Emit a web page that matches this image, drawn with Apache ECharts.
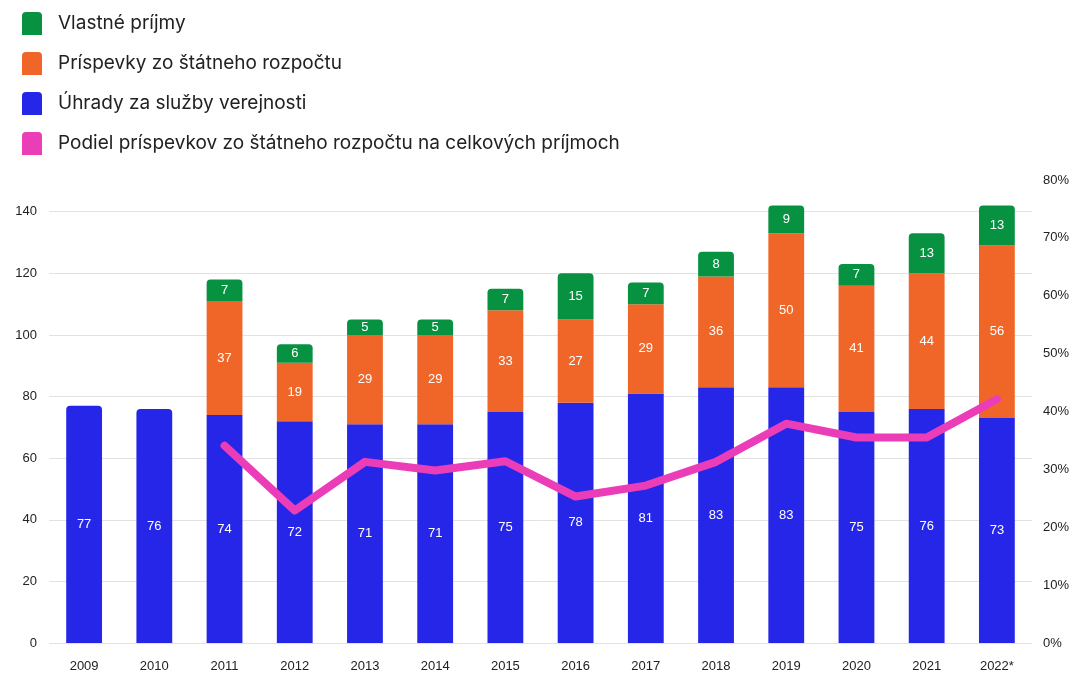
<!DOCTYPE html>
<html>
<head>
<meta charset="utf-8">
<script src="https://cdn.jsdelivr.net/npm/echarts@6/dist/echarts.min.js"></script>
<style>
  html, body { margin: 0; padding: 0; background: #fff; }
  #main { width: 1074px; height: 677px; }
</style>
</head>
<body>
<div id="main"></div>
<script>
var chartDom = document.getElementById('main');
var myChart = echarts.init(chartDom);
var option;

// roky
var years = ['2009', '2010', '2011', '2012', '2013', '2014', '2015', '2016', '2017', '2018', '2019', '2020', '2021', '2022*'];
// mil. eur
var uhrady = [77, 76, 74, 72, 71, 71, 75, 78, 81, 83, 83, 75, 76, 73];
var prispevky = [null, null, 37, 19, 29, 29, 33, 27, 29, 36, 50, 41, 44, 56];
var vlastne = [null, null, 7, 6, 5, 5, 7, 15, 7, 8, 9, 7, 13, 13];
// podiel v %
var podiel = [null, null, 34.1, 22.9, 31.3, 29.8, 31.4, 25.3, 27.2, 31.3, 37.9, 35.5, 35.5, 42.1];

var topRadius = [4, 4, 0, 0];
var legendIcon = 'path://M0,4 Q0,0 4,0 L16,0 Q20,0 20,4 L20,23 L0,23 Z';
var fontFamily = "'Liberation Sans', Arial, sans-serif";

var barLabel = {
    show: true,
    position: 'inside',
    color: '#fff',
    fontSize: 13,
    fontFamily: fontFamily
};

option = {
    animation: false,
    textStyle: { fontFamily: fontFamily },
    legend: {
        orient: 'vertical',
        left: 17,
        top: 7,
        itemWidth: 20,
        itemHeight: 23,
        itemGap: 17,
        icon: legendIcon,
        textStyle: { fontSize: 19, color: '#222', fontFamily: 'Inter', padding: [0, 0, 0, 11] },
        data: ['Vlastné príjmy', 'Príspevky zo štátneho rozpočtu', 'Úhrady za služby verejnosti', 'Podiel príspevkov zo štátneho rozpočtu na celkových príjmoch']
    },
    grid: {
        left: 49,
        right: 42,
        top: 180,
        bottom: 34
    },
    xAxis: {
        type: 'category',
        data: years,
        axisLine: { show: false },
        axisTick: { show: false },
        axisLabel: { color: '#222', fontSize: 13, margin: 17 }
    },
    yAxis: [
        {
            type: 'value',
            min: 0,
            max: 150.3,
            interval: 20,
            axisLabel: { color: '#222', fontSize: 13, margin: 12, showMaxLabel: false },
            splitLine: { lineStyle: { color: '#e2e2e2' }, showMaxLine: false }
        },
        {
            type: 'value',
            min: 0,
            max: 80,
            interval: 10,
            axisLabel: { color: '#222', fontSize: 13, margin: 11, formatter: '{value}%' },
            splitLine: { show: false }
        }
    ],
    series: [
        {
            name: 'Úhrady za služby verejnosti',
            type: 'bar',
            stack: 'prijmy',
            barWidth: '51%',
            itemStyle: { color: '#2626e8' },
            label: barLabel,
            data: uhrady.map(function (v, i) {
                return prispevky[i] == null ? { value: v, itemStyle: { borderRadius: topRadius } } : v;
            })
        },
        {
            name: 'Príspevky zo štátneho rozpočtu',
            type: 'bar',
            stack: 'prijmy',
            itemStyle: { color: '#f06628' },
            label: barLabel,
            data: prispevky
        },
        {
            name: 'Vlastné príjmy',
            type: 'bar',
            stack: 'prijmy',
            itemStyle: { color: '#079242', borderRadius: topRadius },
            label: barLabel,
            data: vlastne
        },
        {
            name: 'Podiel príspevkov zo štátneho rozpočtu na celkových príjmoch',
            type: 'line',
            yAxisIndex: 1,
            symbol: 'none',
            z: 5,
            itemStyle: { color: '#ec3db8' },
            lineStyle: { color: '#ec3db8', width: 8, cap: 'round', join: 'round' },
            data: podiel
        }
    ]
};

option && myChart.setOption(option);
</script>
</body>
</html>
